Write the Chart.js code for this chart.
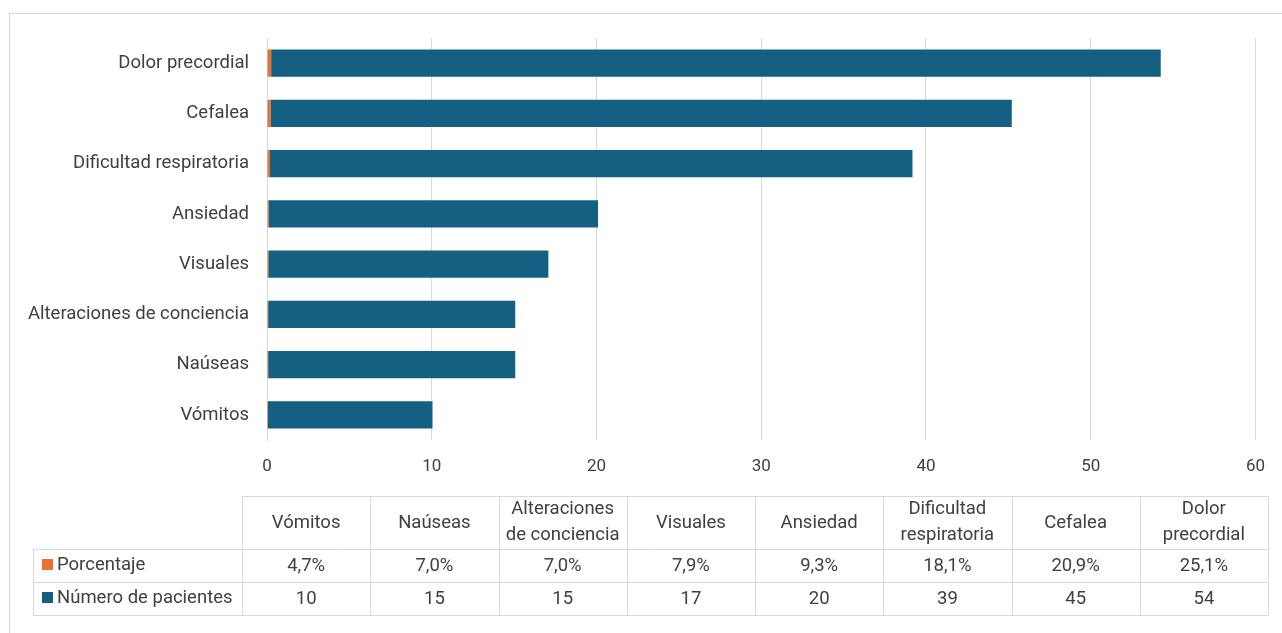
<!DOCTYPE html>
<html>
<head>
<meta charset="utf-8">
<script src="https://cdn.jsdelivr.net/npm/chart.js@4"></script>
<style>
  html, body { margin: 0; padding: 0; background: #fff; }
  #wrap { width: 1282px; height: 633px; position: relative; }
</style>
</head>
<body>
<div id="wrap"><canvas id="chart" width="1282" height="633"></canvas></div>
<script>
// Síntomas (orden de la tabla: de abajo hacia arriba en el gráfico)
const categories = ['Vómitos', 'Naúseas', 'Alteraciones de conciencia', 'Visuales', 'Ansiedad', 'Dificultad respiratoria', 'Cefalea', 'Dolor precordial'];
const headerLines = [['Vómitos'], ['Naúseas'], ['Alteraciones', 'de conciencia'], ['Visuales'], ['Ansiedad'], ['Dificultad', 'respiratoria'], ['Cefalea'], ['Dolor', 'precordial']];
const porcentaje = [0.047, 0.070, 0.070, 0.079, 0.093, 0.181, 0.209, 0.251];
const pacientes = [10, 15, 15, 17, 20, 39, 45, 54];
const xTicks = [0, 10, 20, 30, 40, 50, 60];

const ORANGE = '#e97132';
const BLUE = '#156082';
const GRID = '#d9d9d9';
const TEXT = '#404040';
const FONT = 'Roboto, "Liberation Sans", sans-serif';
const FS = 18.5;

const fmtPct = v => (v * 100).toFixed(1).replace('.', ',') + '%';

// Tabla de datos debajo del gráfico
const dataTable = {
    id: 'dataTable',
    afterDraw(chart) {
        const c = chart.ctx;
        const x0 = 242, colW = 128.25, legL = 33;
        const yHead = 496, yR1 = 549, yR2 = 582, yEnd = 615;
        c.save();
        // marco exterior
        c.strokeStyle = GRID;
        c.lineWidth = 1;
        c.strokeRect(9.5, 13.5, 1400, 700);

        c.beginPath();
        const xEnd = x0 + colW * categories.length;
        c.moveTo(x0, yHead + 0.5); c.lineTo(xEnd, yHead + 0.5);
        [yR1, yR2, yEnd].forEach(y => { c.moveTo(legL, y + 0.5); c.lineTo(xEnd, y + 0.5); });
        c.moveTo(legL + 0.5, yR1); c.lineTo(legL + 0.5, yEnd);
        for (let i = 0; i <= categories.length; i++) {
            const x = Math.round(x0 + i * colW) + 0.5;
            c.moveTo(x, yHead); c.lineTo(x, yEnd);
        }
        c.stroke();

        c.font = FS + 'px ' + FONT;
        c.fillStyle = TEXT;
        c.textAlign = 'center';
        c.textBaseline = 'middle';
        headerLines.forEach((lines, i) => {
            const cx = x0 + colW * (i + 0.5);
            if (lines.length === 1) {
                c.fillText(lines[0], cx, (yHead + yR1) / 2 + 1);
            } else {
                c.fillText(lines[0], cx, yHead + 13);
                c.fillText(lines[1], cx, yHead + 39);
            }
            c.fillText(fmtPct(porcentaje[i]), cx, (yR1 + yR2) / 2 + 1);
            c.fillText(String(pacientes[i]), cx, (yR2 + yEnd) / 2 + 1);
        });

        // leyenda
        c.textAlign = 'left';
        c.fillStyle = ORANGE;
        c.fillRect(42, 559, 11, 11);
        c.fillStyle = BLUE;
        c.fillRect(42, 592, 11, 11);
        c.fillStyle = TEXT;
        c.fillText('Porcentaje', 57, (yR1 + yR2) / 2);
        c.fillText('Número de pacientes', 57, (yR2 + yEnd) / 2);
        c.restore();
    }
};

new Chart(document.getElementById('chart'), {
    type: 'bar',
    data: {
        labels: categories,
        datasets: [
            { label: 'Porcentaje', data: porcentaje, backgroundColor: ORANGE, barPercentage: 0.54, categoryPercentage: 1 },
            { label: 'Número de pacientes', data: pacientes, backgroundColor: BLUE, barPercentage: 0.54, categoryPercentage: 1 }
        ]
    },
    options: {
        indexAxis: 'y',
        responsive: false,
        animation: false,
        layout: { padding: { left: 9, right: 25, top: 38, bottom: 160 } },
        scales: {
            x: {
                stacked: true,
                min: 0,
                max: 60,
                afterBuildTicks: s => { s.ticks = xTicks.map(v => ({ value: v })); },
                afterFit: s => { s.height = 33; },
                grid: { color: GRID, drawTicks: false },
                border: { display: false },
                ticks: { color: TEXT, padding: 17, font: { family: FONT, size: 17 } }
            },
            y: {
                stacked: true,
                reverse: true,
                afterFit: s => { s.width = 258; },
                grid: { display: false },
                border: { color: GRID },
                ticks: { color: TEXT, padding: 10, font: { family: FONT, size: FS } }
            }
        },
        plugins: {
            legend: { display: false },
            tooltip: { enabled: false }
        }
    },
    plugins: [dataTable]
});
</script>
</body>
</html>
